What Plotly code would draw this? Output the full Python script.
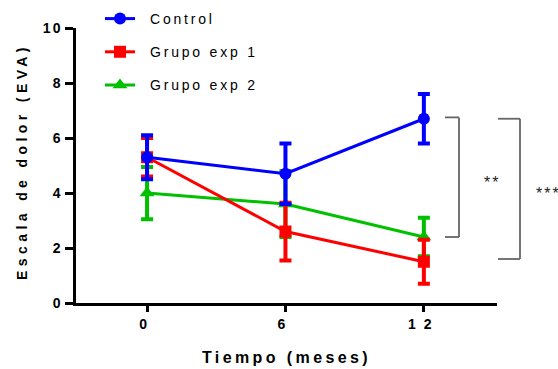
import plotly.graph_objects as go

# Time points (months)
months = [0, 6, 12]

# Pain scale means and error (EVA)
control_mean = [5.3, 4.7, 6.7]
control_err = [0.8, 1.1, 0.9]
exp1_mean = [5.3, 2.6, 1.5]
exp1_err = [0.7, 1.05, 0.8]
exp2_mean = [4.0, 3.6, 2.4]
exp2_err = [0.95, 1.2, 0.7]

# Significance brackets: (low, high, label)
bracket_inner = (2.4, 6.75, "**")
bracket_outer = (1.6, 6.7, "***")

W, H = 558, 369
ML, MR, MT, MB = 76, 61, 28, 66
PW = W - ML - MR
PH = H - MT - MB

FONT = "Liberation Sans, Arial, sans-serif"


def px_to_paper(px):
    return (px - ML) / PW


def py_to_paper(py):
    return (H - MB - py) / PH


# drawn back to front: exp 2, exp 1, control
series = [
    ("Grupo exp 2", exp2_mean, exp2_err, "#00C000", "triangle-up", 13, 3),
    ("Grupo exp 1", exp1_mean, exp1_err, "#FF0000", "square", 12, 2),
    ("Control", control_mean, control_err, "#0000FF", "circle", 12, 1),
]

fig = go.Figure()
for name, mean, err, color, symbol, size, rank in series:
    fig.add_trace(go.Scatter(
        x=months, y=mean, name=name, mode="lines+markers",
        legendgroup=name, legendrank=rank,
        line=dict(color=color, width=3),
        marker=dict(symbol=symbol, size=size, color=color),
        error_y=dict(type="data", array=err, visible=True,
                     color=color, thickness=4, width=6),
        cliponaxis=False,
    ))

shapes = []
annotations = []
for (lo, hi, label), (x0px, x1px, tx, ty_px, anchor) in [
    (bracket_inner, (445, 459, 484, 182, "left")),
    (bracket_outer, (498, 520, 537, 193, "left")),
]:
    x0, x1 = px_to_paper(x0px), px_to_paper(x1px)
    line = dict(color="#666666", width=1.8)
    shapes += [
        dict(type="line", xref="paper", yref="y", x0=x0, x1=x1, y0=hi, y1=hi, line=line),
        dict(type="line", xref="paper", yref="y", x0=x1, x1=x1, y0=lo, y1=hi, line=line),
        dict(type="line", xref="paper", yref="y", x0=x0, x1=x1, y0=lo, y1=lo, line=line),
    ]
    annotations.append(dict(
        text=label, xref="paper", yref="paper", x=px_to_paper(tx),
        y=py_to_paper(ty_px), xanchor=anchor, yanchor="middle",
        showarrow=False, font=dict(family=FONT, size=16, color="#222222"),
    ))

fig.update_layout(
    width=W, height=H, autosize=False,
    margin=dict(l=ML, r=MR, t=MT, b=MB, pad=0, autoexpand=False),
    paper_bgcolor="white", plot_bgcolor="white",
    font=dict(family=FONT, color="black"),
    showlegend=True,
    legend=dict(
        x=px_to_paper(100), y=py_to_paper(3), xanchor="left", yanchor="top",
        traceorder="grouped", tracegroupgap=12,
        font=dict(family=FONT, size=14, color="black"),
        bgcolor="rgba(0,0,0,0)", itemwidth=30,
    ),
    shapes=shapes,
    annotations=annotations,
    xaxis=dict(
        range=[-3.08, 15.17], tickvals=months, ticktext=[str(m) for m in months],
        showline=True, linecolor="black", linewidth=2.5,
        ticks="outside", ticklen=6, tickwidth=2.5, tickcolor="black",
        showgrid=False, zeroline=False, automargin=False,
        tickfont=dict(family=FONT, size=14, color="black", weight="bold"),
        title=dict(text="Tiempo (meses)", standoff=18,
                   font=dict(family=FONT, size=16, color="black", weight="bold")),
    ),
    yaxis=dict(
        range=[0, 10], tickvals=[0, 2, 4, 6, 8, 10],
        showline=True, linecolor="black", linewidth=2.5,
        ticks="outside", ticklen=8, tickwidth=2.5, tickcolor="black",
        showgrid=False, zeroline=False, automargin=False,
        tickfont=dict(family=FONT, size=14, color="black", weight="bold"),
        title=dict(text="Escala de dolor (EVA)", standoff=6,
                   font=dict(family=FONT, size=14, color="black", weight="bold")),
    ),
)

# Widen letter spacing on titles, legend entries, tick labels and star marks,
# and nudge the axis titles into place
post = """
var gd = document.getElementById('{plot_id}');
function spread() {
  gd.querySelectorAll('.legend .scrollbox').forEach(function(e){ e.removeAttribute('clip-path'); });
  gd.querySelectorAll('.legend').forEach(function(e){ e.removeAttribute('clip-path'); });
  gd.querySelectorAll('.legendtext').forEach(function(e){
    e.style.letterSpacing = '2.8px';
    if (!e.dataset.shifted) {
      e.setAttribute('x', parseFloat(e.getAttribute('x')) + 10);
      e.dataset.shifted = '1';
    }
  });
  gd.querySelectorAll('.xtitle').forEach(function(e){
    e.style.letterSpacing = '3.4px';
    if (!e.dataset.shifted) {
      e.setAttribute('y', parseFloat(e.getAttribute('y')) + 4);
      e.dataset.shifted = '1';
    }
  });
  gd.querySelectorAll('.ytitle').forEach(function(e){
    e.style.letterSpacing = '4.4px';
    if (!e.dataset.shifted) {
      var nx = parseFloat(e.getAttribute('x')) - 10;
      var ny = parseFloat(e.getAttribute('y')) - 4;
      e.setAttribute('x', nx);
      e.setAttribute('y', ny);
      e.setAttribute('transform', 'rotate(-90,' + nx + ',' + ny + ')');
      e.dataset.shifted = '1';
    }
  });
  gd.querySelectorAll('.xtick text').forEach(function(e){ e.style.letterSpacing = '8px'; });
  gd.querySelectorAll('.ytick text').forEach(function(e){ e.style.letterSpacing = '2px'; });
  gd.querySelectorAll('.annotation-text').forEach(function(e){ e.style.letterSpacing = '2px'; });
}
spread();
gd.on('plotly_afterplot', spread);
"""

fig.write_html("out.html", post_script=post)
